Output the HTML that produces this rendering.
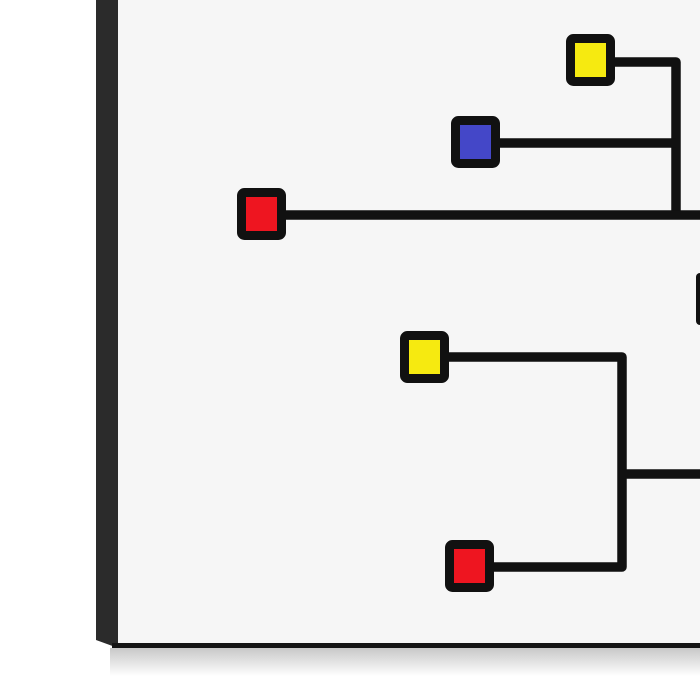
<!DOCTYPE html>
<html><head><style>
html,body{margin:0;padding:0;width:700px;height:700px;overflow:hidden;background:#fff;}
</style></head><body>
<svg width="700" height="700" viewBox="0 0 700 700" xmlns="http://www.w3.org/2000/svg">
<defs>
<linearGradient id="sh" x1="0" y1="0" x2="0" y2="1">
<stop offset="0" stop-color="#c8c8c8"/><stop offset="1" stop-color="#fff"/>
</linearGradient>
</defs>
<rect x="0" y="0" width="700" height="700" fill="#fff"/>
<rect x="110" y="648" width="590" height="28" fill="url(#sh)"/>
<polygon points="96,0 118,0 118,648 96,640" fill="#2b2b2b"/>
<rect x="118" y="0" width="582" height="645" fill="#f6f6f6"/>
<rect x="112" y="643" width="588" height="5" fill="#151515"/>
<g stroke="#111" stroke-width="9.5" fill="none" stroke-linejoin="round">
<polyline points="600,62 676,62 676,215"/>
<line x1="490" y1="143" x2="676" y2="143"/>
<line x1="280" y1="215" x2="700" y2="215"/>
<polyline points="440,357 622,357 622,567 485,567"/>
<line x1="622" y1="474" x2="700" y2="474"/>
</g>
<g stroke="#111" stroke-width="9">
<rect x="570.5" y="38.5" width="40" height="43" rx="3" fill="#f6ea10"/>
<rect x="455.5" y="120.5" width="40" height="43" rx="3" fill="#4447c8"/>
<rect x="241.5" y="192.5" width="40" height="43" rx="3" fill="#ee1520"/>
<rect x="404.5" y="335.5" width="40" height="43" rx="3" fill="#f6ea10"/>
<rect x="449.5" y="544.5" width="40" height="43" rx="3" fill="#ee1520"/>
</g>
<rect x="696" y="273" width="10" height="52" rx="4" fill="#111"/>
</svg>
</body></html>
